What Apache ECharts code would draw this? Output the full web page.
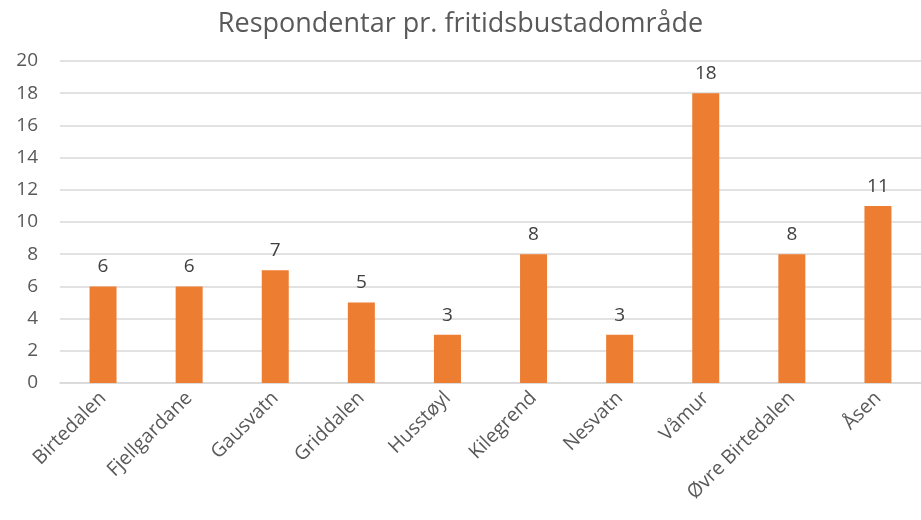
<!DOCTYPE html>
<html>
<head>
<meta charset="utf-8">
<script src="https://cdn.jsdelivr.net/npm/echarts@6/dist/echarts.min.js"></script>
<style>
    html, body { margin: 0; padding: 0; background: #fff; }
    #chart { width: 921px; height: 520px; }
</style>
</head>
<body>
<div id="chart"></div>
<script>
// område og tal respondentar
const categories = ['Birtedalen', 'Fjellgardane', 'Gausvatn', 'Griddalen', 'Husstøyl',
    'Kilegrend', 'Nesvatn', 'Våmur', 'Øvre Birtedalen', 'Åsen'];
const respondents = [6, 6, 7, 5, 3, 8, 3, 18, 8, 11];

const FONT = '"Open Sans", "Noto Sans", sans-serif';

const chart = echarts.init(document.getElementById('chart'));

chart.setOption({
    animation: false,
    title: {
        text: 'Respondentar pr. fritidsbustadområde',
        left: 'center',
        top: 6,
        textStyle: {
            fontFamily: FONT,
            fontSize: 27,
            fontWeight: 'normal',
            color: '#595959'
        }
    },
    grid: {
        left: 60,
        top: 61,
        width: 867,
        height: 322
    },
    xAxis: {
        type: 'category',
        data: categories,
        axisLine: { lineStyle: { color: '#d9d9d9', width: 1.5 } },
        axisTick: { show: false },
        axisLabel: {
            rotate: 45,
            interval: 0,
            margin: 12,
            fontFamily: FONT,
            fontSize: 19.5,
            color: '#595959'
        }
    },
    yAxis: {
        type: 'value',
        min: 0,
        max: 20,
        interval: 2,
        axisLine: { show: false },
        axisTick: { show: false },
        splitLine: { lineStyle: { color: '#d9d9d9', width: 1.5 } },
        axisLabel: {
            margin: 22,
            fontFamily: FONT,
            fontSize: 19,
            color: '#595959'
        }
    },
    series: [{
        type: 'bar',
        data: respondents,
        barWidth: 27,
        itemStyle: { color: '#ed7d31' },
        label: {
            show: true,
            position: 'top',
            distance: 10,
            fontFamily: FONT,
            fontSize: 19,
            color: '#404040'
        }
    }]
});
</script>
</body>
</html>
